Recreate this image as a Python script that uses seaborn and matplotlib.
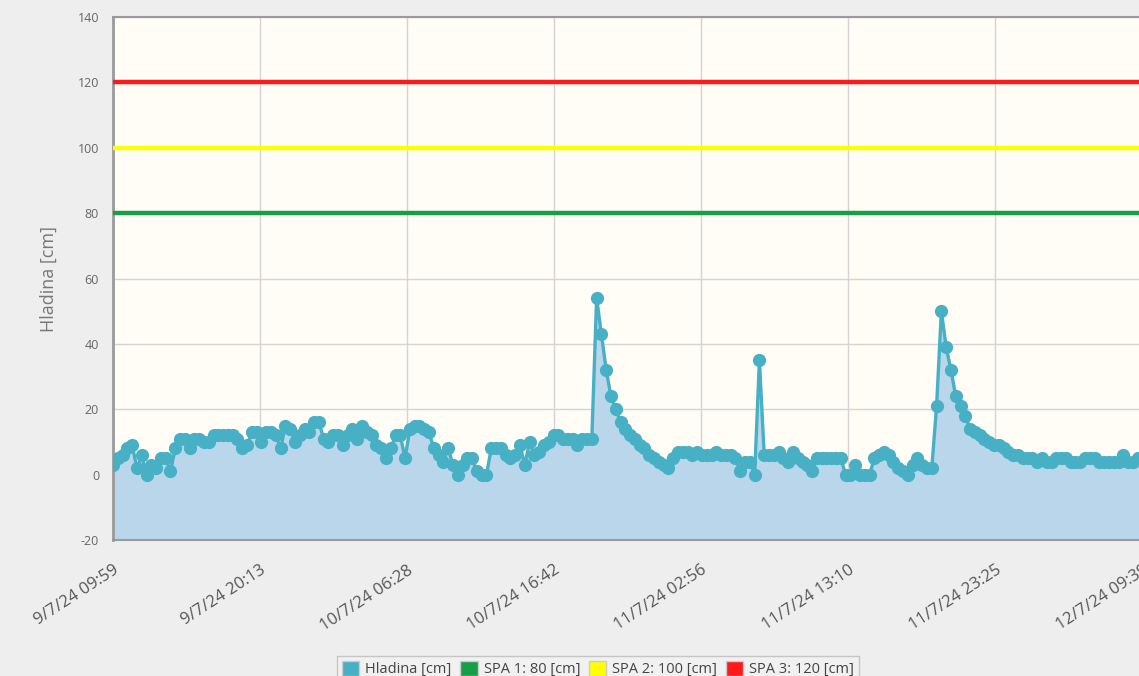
import numpy as np
import pandas as pd
import matplotlib
matplotlib.use("Agg")
import matplotlib.pyplot as plt
import matplotlib.transforms as mtransforms
from matplotlib.patches import Patch
import seaborn as sns

# ---------------- data ----------------
start_time = "2024-07-09 09:59"
step_minutes = 20
hladina = [
    3, 5, 6, 8, 9, 2, 6, 0, 3, 2, 5, 5, 1, 8, 11, 11, 8, 11, 11, 10,
    10, 12, 12, 12, 12, 12, 11, 8, 9, 13, 13, 10, 13, 13, 12, 8, 15, 14, 10, 12,
    14, 13, 16, 16, 11, 10, 12, 12, 9, 12, 14, 11, 15, 13, 12, 9, 8, 5, 8, 12,
    12, 5, 14, 15, 15, 14, 13, 8, 6, 4, 8, 3, 0, 3, 5, 5, 1, 0, 0, 8,
    8, 8, 6, 5, 6, 9, 3, 10, 6, 7, 9, 10, 12, 12, 11, 11, 11, 9, 11, 11,
    11, 54, 43, 32, 24, 20, 16, 14, 12, 11, 9, 8, 6, 5, 4, 3, 2, 5, 7, 7,
    7, 6, 7, 6, 6, 6, 7, 6, 6, 6, 5, 1, 4, 4, 0, 35, 6, 6, 6, 7,
    5, 4, 7, 5, 4, 3, 1, 5, 5, 5, 5, 5, 5, 0, 0, 3, 0, 0, 0, 5,
    6, 7, 6, 4, 2, 1, 0, 3, 5, 3, 2, 2, 21, 50, 39, 32, 24, 21, 18, 14,
    13, 12, 11, 10, 9, 9, 8, 7, 6, 6, 5, 5, 5, 4, 5, 4, 4, 5, 5, 5,
    4, 4, 4, 5, 5, 5, 4, 4, 4, 4, 4, 6, 4, 4, 5, 5,
]
spa_levels = [80, 100, 120]
spa_labels = ["SPA 1: 80 [cm]", "SPA 2: 100 [cm]", "SPA 3: 120 [cm]"]
spa_colors = ["#16a045", "#ffff00", "#ff1a1a"]
tick_labels = ["9/7/24 09:59", "9/7/24 20:13", "10/7/24 06:28", "10/7/24 16:42",
               "11/7/24 02:56", "11/7/24 13:10", "11/7/24 23:25", "12/7/24 09:39"]
y_ticks = [-20, 0, 20, 40, 60, 80, 100, 120, 140]
series_label = "Hladina [cm]"
y_label = "Hladina [cm]"

# ---------------- build ----------------
times = pd.date_range(start=start_time, periods=len(hladina), freq=f"{step_minutes}min")
df = pd.DataFrame({"time": times, "value": hladina})
tick_times = pd.to_datetime(tick_labels, format="%d/%m/%y %H:%M")

sns.set_style("white")
plt.rcParams["font.family"] = ["Open Sans", "DejaVu Sans"]

W, H = 1139, 676
fig = plt.figure(figsize=(W / 100, H / 100), dpi=100)
fig.patch.set_facecolor("#eeeeee")

left_px, right_px, top_px, bottom_px = 113, 1200, 17, 540
ax = fig.add_axes([left_px / W, (H - bottom_px) / H,
                   (right_px - left_px) / W, (bottom_px - top_px) / H])
ax.set_facecolor("#fffdf6")

line_col = "#47b0c5"
fill_col = "#b9d6ea"

ax.fill_between(df["time"], df["value"], -20, color=fill_col, zorder=2, lw=0)
for lvl, col in zip(spa_levels, spa_colors):
    ax.axhline(lvl, color=col, lw=3.2, zorder=3)
sns.lineplot(data=df, x="time", y="value", ax=ax, color=line_col, lw=2.4,
             marker="o", markersize=9.5, markeredgewidth=0, markerfacecolor=line_col,
             zorder=4, legend=False)

# axes limits: px per tick interval = 147
interval = tick_times[1] - tick_times[0]
t0 = tick_times[0]
ax.set_xlim(t0, t0 + interval * ((right_px - left_px) / 147.0))
ax.set_ylim(-20, 140)

ax.set_yticks(y_ticks)
ax.set_yticklabels([str(v) for v in y_ticks], fontsize=9, color="#666666")
ax.set_xticks(tick_times)
ax.set_xticklabels(tick_labels, rotation=33, ha="right", rotation_mode="anchor",
                   fontsize=12, color="#555555")
offset = mtransforms.ScaledTranslation(-10 / 100, 0, fig.dpi_scale_trans)
for lab in ax.get_xticklabels():
    lab.set_transform(lab.get_transform() + offset)
ax.set_xlabel("")
ax.set_ylabel(y_label, fontsize=13, color="#777777", labelpad=14)

ax.grid(True, color="#d4d4d4", lw=1, zorder=1)
ax.set_axisbelow(True)
ax.tick_params(axis="both", which="major", length=7, width=1, color="#aaaaaa",
               direction="out", pad=3)
ax.tick_params(axis="x", pad=9)
for side in ["left", "bottom", "top"]:
    ax.spines[side].set_visible(True)
    ax.spines[side].set_color("#9a9a9a")
ax.spines["left"].set_linewidth(2)
ax.spines["bottom"].set_linewidth(1.5)
ax.spines["top"].set_linewidth(1.5)
ax.spines["right"].set_visible(False)

handles = [Patch(facecolor=line_col, edgecolor="#cccccc", label=series_label)]
handles += [Patch(facecolor=c, edgecolor="#cccccc", label=l) for c, l in zip(spa_colors, spa_labels)]
leg = fig.legend(handles=handles, loc="lower center", bbox_to_anchor=(598 / W, -0.02),
                 ncol=4, fontsize=10.5, frameon=True, fancybox=False,
                 handlelength=1.2, handleheight=1.2, handletextpad=0.4,
                 columnspacing=0.6, borderpad=0.35)
leg.get_frame().set_edgecolor("#bbbbbb")
leg.get_frame().set_facecolor("#f2f2f2")
for t in leg.get_texts():
    t.set_color("#444444")

fig.savefig("out.png", dpi=100, facecolor=fig.get_facecolor())
